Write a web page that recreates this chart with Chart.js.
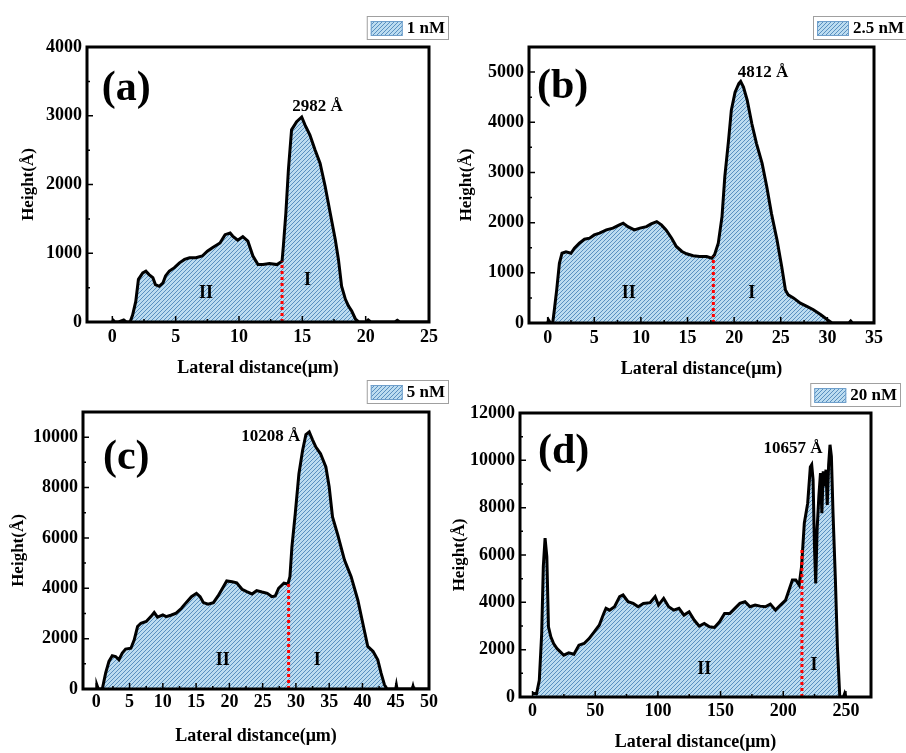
<!DOCTYPE html>
<html>
<head>
<meta charset="utf-8">
<script src="https://cdn.jsdelivr.net/npm/chart.js@4.4.0/dist/chart.umd.min.js"></script>
<style>
  body { margin: 0; background: #fff; }
  #wrap { position: relative; width: 906px; height: 753px; overflow: hidden; }
  canvas { position: absolute; }
</style>
</head>
<body>
<div id="wrap">
  <canvas id="chartA" width="453" height="380" style="left:0px;top:0px"></canvas>
  <canvas id="chartB" width="453" height="380" style="left:453px;top:0px"></canvas>
  <canvas id="chartC" width="453" height="377" style="left:0px;top:376px"></canvas>
  <canvas id="chartD" width="458" height="377" style="left:448px;top:376px"></canvas>
</div>
<script>
// height profiles, x in µm, y in Å
let distA = [0, 0.2, 0.5, 0.9, 1.1, 1.4, 1.6, 1.85, 2.06, 2.4, 2.65, 2.9, 3.2, 3.4, 3.7, 4.0, 4.2, 4.5, 4.9, 5.3, 5.7, 6.1, 6.6, 7.1, 7.5, 7.9, 8.5, 8.9, 9.3, 9.5, 9.9, 10.3, 10.7, 11.1, 11.5, 11.9, 12.4, 13.0, 13.4, 13.5, 13.7, 13.9, 14.15, 14.55, 14.95, 15.2, 15.6, 16.0, 16.4, 16.8, 17.2, 17.6, 17.85, 18.1, 18.4, 18.65, 18.9, 19.2, 19.45, 20.0, 20.2, 20.4, 22.3, 22.5, 22.7, 25];
let heightA = [40, 0, 0, 30, 0, 0, 100, 300, 620, 715, 740, 690, 645, 545, 520, 570, 670, 740, 790, 860, 910, 935, 935, 960, 1030, 1080, 1150, 1270, 1295, 1250, 1190, 1240, 1175, 960, 835, 835, 850, 835, 885, 1100, 1585, 2215, 2795, 2915, 2982, 2870, 2720, 2505, 2310, 1975, 1585, 1200, 910, 520, 330, 230, 160, 40, 0, 0, 30, 0, 0, 25, 0, 0];

let distB = [0, 0.1, 0.3, 0.54, 0.72, 0.97, 1.26, 1.54, 1.97, 2.5, 2.87, 3.4, 3.95, 4.5, 5.0, 5.56, 6.3, 7.0, 7.7, 8.1, 8.6, 9.3, 9.9, 10.6, 11.1, 11.7, 12.2, 12.7, 13.3, 13.8, 14.4, 14.9, 15.6, 16.3, 17.05, 17.6, 17.9, 18.3, 18.7, 19.0, 19.4, 19.7, 20.1, 20.5, 20.7, 21.0, 21.4, 21.9, 22.4, 23.0, 23.5, 24.0, 24.6, 25.1, 25.5, 25.8, 26.4, 27.1, 27.8, 28.5, 29.3, 30.0, 30.5, 32.3, 32.5, 32.7, 35];
let heightB = [0, 60, 0, 0, 265, 660, 1190, 1390, 1420, 1390, 1490, 1590, 1670, 1690, 1755, 1790, 1855, 1890, 1955, 1990, 1920, 1855, 1890, 1920, 1975, 2020, 1955, 1855, 1690, 1525, 1425, 1380, 1340, 1325, 1325, 1290, 1360, 1590, 2120, 2915, 3640, 4240, 4600, 4770, 4812, 4700, 4440, 3970, 3575, 3180, 2715, 2185, 1655, 1125, 660, 560, 495, 395, 330, 265, 165, 65, 0, 0, 40, 0, 0];

let distC = [0, 0.1, 0.3, 0.9, 1.4, 1.9, 2.4, 2.9, 3.4, 3.9, 4.4, 5.2, 5.7, 6.2, 6.7, 7.5, 8.2, 8.7, 9.2, 10.0, 10.5, 11.3, 12.0, 12.8, 13.5, 14.3, 15.05, 15.6, 16.1, 16.8, 17.6, 18.3, 19.1, 19.6, 20.4, 21.1, 21.9, 22.6, 23.4, 24.1, 24.9, 25.7, 26.4, 26.9, 27.4, 28.2, 28.8, 29.1, 29.4, 29.9, 30.45, 31.0, 31.5, 32.0, 32.5, 33.0, 33.7, 34.5, 35.0, 35.5, 36.3, 37.3, 38.3, 39.3, 40.05, 40.8, 41.6, 42.3, 42.8, 43.3, 43.7, 45.0, 45.1, 45.2, 47.5, 47.6, 47.7, 50];
let heightC = [0, 150, 0, 0, 630, 1095, 1320, 1290, 1160, 1425, 1585, 1620, 1950, 2480, 2610, 2680, 2875, 3035, 2850, 2940, 2875, 2940, 3010, 3205, 3430, 3665, 3800, 3665, 3430, 3365, 3430, 3695, 4065, 4290, 4260, 4220, 3960, 3865, 3775, 3905, 3850, 3800, 3665, 3695, 4000, 4200, 4170, 4460, 5650, 6965, 8550, 9470, 10105, 10208, 9895, 9605, 9340, 8815, 8020, 6835, 6110, 5120, 4460, 3535, 2610, 1690, 1490, 1160, 630, 170, 0, 0, 150, 0, 0, 100, 0, 0];

let distD = [0, 1, 3.2, 5.4, 7.3, 8.6, 10.0, 11.4, 12.7, 14.6, 16.8, 19.5, 22.2, 24.9, 28.9, 33.0, 37.0, 41.1, 45.1, 49.2, 53.2, 56.8, 58.6, 61.4, 65.4, 69.5, 72.2, 76.2, 80.3, 84.3, 88.4, 93.8, 97.8, 100.5, 104.6, 108.6, 112.7, 116.8, 120.8, 124.9, 128.9, 133.0, 137.0, 141.1, 145.1, 149.2, 153.2, 157.3, 161.4, 165.4, 169.5, 173.5, 177.6, 181.6, 185.7, 189.7, 193.8, 197.8, 201.9, 204.6, 207.3, 210.0, 212.7, 214.6, 216.8, 219.5, 221.6, 222.7, 223.8, 224.9, 225.9, 227.0, 228.4, 229.7, 230.8, 231.9, 233.0, 234.1, 235.1, 236.2, 237.3, 238.4, 239.7, 241.6, 243.2, 245.1, 248, 249, 250];
let heightD = [150, 150, 140, 705, 2680, 5510, 6710, 5930, 2965, 2540, 2260, 2050, 1905, 1765, 1865, 1810, 2190, 2260, 2470, 2755, 3035, 3530, 3745, 3670, 3815, 4240, 4310, 4025, 3955, 3815, 3955, 3985, 4240, 3885, 4165, 3815, 3670, 3745, 3460, 3600, 3250, 2995, 3105, 2965, 2940, 3180, 3530, 3530, 3745, 3955, 4025, 3815, 3885, 3840, 3815, 3925, 3670, 3885, 4095, 4520, 4945, 4945, 4730, 5510, 7345, 8190, 9715, 9815, 9180, 6355, 4800, 7060, 8475, 9465, 7770, 9535, 8900, 9605, 8120, 9815, 10657, 10170, 7770, 4945, 2120, 0, 0, 150, 0];

let concentrations = ["1 nM", "2.5 nM", "5 nM", "20 nM"];
let panelTags = ["(a)", "(b)", "(c)", "(d)"];
let peakHeights = [2982, 4812, 10208, 10657];
let boundaryX = [13.4, 17.77, 28.9, 214.9];
let boundaryTop = [880, 1320, 4200, 6300];
let regionNames = ["II", "I"];

let xRanges = [[-2, 25], [-2, 35], [-2, 50], [-10, 270]];
let yRanges = [[0, 4000], [0, 5500], [0, 11000], [0, 12000]];
let xTickValues = [
  [0, 5, 10, 15, 20, 25],
  [0, 5, 10, 15, 20, 25, 30, 35],
  [0, 5, 10, 15, 20, 25, 30, 35, 40, 45, 50],
  [0, 50, 100, 150, 200, 250]
];
let yTickValues = [
  [0, 1000, 2000, 3000, 4000],
  [0, 1000, 2000, 3000, 4000, 5000],
  [0, 2000, 4000, 6000, 8000, 10000],
  [0, 2000, 4000, 6000, 8000, 10000, 12000]
];

let xTitle = "Lateral distance(μm)";
let yTitle = "Height(Å)";

// layout of each panel (canvas pixels) and label anchors (data coords)
let panels = [
  { id: "chartA", x: distA, y: heightA,
    pad: { top: 47, right: 24, bottom: 0, left: 0 }, yWidth: 87, xHeight: 58,
    yTitlePad: 18, xTickPad: 5, xTitlePad: 1,
    legendRight: 449, legendTop: 16,
    tagAt: [1.1, 3390], peakAt: [16.2, 3140], regionAt: [[7.4, 420], [15.4, 610]] },
  { id: "chartB", x: distB, y: heightB,
    pad: { top: 47, right: 32, bottom: 0, left: 0 }, yWidth: 76, xHeight: 57,
    yTitlePad: 3, xTickPad: 5, xTitlePad: 0,
    legendRight: 455, legendTop: 16,
    tagAt: [1.6, 4700], peakAt: [23.1, 4990], regionAt: [[8.7, 600], [21.9, 590]] },
  { id: "chartC", x: distC, y: heightC,
    pad: { top: 36, right: 24, bottom: 0, left: 0 }, yWidth: 83, xHeight: 64,
    yTitlePad: 8, xTickPad: 3, xTitlePad: 6,
    legendRight: 449, legendTop: 4,
    tagAt: [4.5, 9170], peakAt: [26.2, 10010], regionAt: [[19.0, 1150], [33.2, 1150]] },
  { id: "chartD", x: distD, y: heightD,
    pad: { top: 37, right: 35, bottom: 0, left: 0 }, yWidth: 72, xHeight: 56,
    yTitlePad: 1, xTickPad: 4, xTitlePad: 0,
    legendRight: 453, legendTop: 7,
    tagAt: [24.8, 10350], peakAt: [207.8, 10510], regionAt: [[137, 1170], [224.6, 1350]] }
];

let serif = "'Liberation Serif', 'Times New Roman', serif";

function makeHatch(ctx) {
  let tile = document.createElement("canvas");
  tile.width = 4;
  tile.height = 4;
  let g = tile.getContext("2d");
  g.fillStyle = "#bcdcf0";
  g.fillRect(0, 0, 4, 4);
  g.strokeStyle = "#5a90c0";
  g.lineWidth = 1;
  g.beginPath();
  g.moveTo(0, 4); g.lineTo(4, 0);
  g.moveTo(-1, 1); g.lineTo(1, -1);
  g.moveTo(3, 5); g.lineTo(5, 3);
  g.stroke();
  return ctx.createPattern(tile, "repeat");
}

function drawLegend(ctx, panel, label, hatch) {
  ctx.font = "bold 17px " + serif;
  let w = 4 + 32 + 4 + ctx.measureText(label).width + 4;
  let h = 24;
  let left = panel.legendRight - w;
  let top = panel.legendTop;
  ctx.fillStyle = "#fff";
  ctx.fillRect(left, top, w, h);
  ctx.strokeStyle = "#a0a0a0";
  ctx.lineWidth = 1;
  ctx.strokeRect(left + 0.5, top + 0.5, w - 1, h - 1);
  ctx.fillStyle = hatch;
  ctx.fillRect(left + 4, top + 5, 32, 15);
  ctx.strokeStyle = "#6f9fcb";
  ctx.strokeRect(left + 4.5, top + 5.5, 31, 14);
  ctx.fillStyle = "#000";
  ctx.textAlign = "left";
  ctx.textBaseline = "middle";
  ctx.fillText(label, left + 40, top + h / 2 + 1);
}

function makeChart(i) {
  let panel = panels[i];
  let canvas = document.getElementById(panel.id);
  let ctx = canvas.getContext("2d");
  let hatch = makeHatch(ctx);
  let xMinor = (xTickValues[i][1] - xTickValues[i][0]) / 2;
  let yMinor = (yTickValues[i][1] - yTickValues[i][0]) / 2;

  let frame = {
    id: "frame" + i,
    afterDatasetsDraw(chart) {
      let c = chart.ctx;
      let a = chart.chartArea;
      let xs = chart.scales.x;
      let ys = chart.scales.y;
      c.save();
      c.strokeStyle = "#000";
      c.lineWidth = 1.5;
      c.beginPath();
      ys.ticks.forEach(t => {
        let p = ys.getPixelForValue(t.value);
        c.moveTo(a.left, p); c.lineTo(a.left + 6, p);
        let m = ys.getPixelForValue(t.value + yMinor);
        if (m > a.top) { c.moveTo(a.left, m); c.lineTo(a.left + 3, m); }
      });
      xs.ticks.forEach(t => {
        let p = xs.getPixelForValue(t.value);
        c.moveTo(p, a.bottom); c.lineTo(p, a.bottom - 6);
        let m = xs.getPixelForValue(t.value + xMinor);
        if (m < a.right) { c.moveTo(m, a.bottom); c.lineTo(m, a.bottom - 3); }
      });
      c.stroke();
      c.lineWidth = 3;
      c.strokeRect(a.left, a.top, a.right - a.left, a.bottom - a.top);

      c.fillStyle = "#000";
      c.textAlign = "center";
      c.textBaseline = "middle";
      c.font = "bold 42px " + serif;
      c.fillText(panelTags[i], xs.getPixelForValue(panel.tagAt[0]), ys.getPixelForValue(panel.tagAt[1]));
      c.font = "bold 17px " + serif;
      c.fillText(peakHeights[i] + " Å", xs.getPixelForValue(panel.peakAt[0]), ys.getPixelForValue(panel.peakAt[1]));
      c.font = "bold 18px " + serif;
      regionNames.forEach((name, k) => {
        c.fillText(name, xs.getPixelForValue(panel.regionAt[k][0]), ys.getPixelForValue(panel.regionAt[k][1]));
      });
      drawLegend(c, panel, concentrations[i], hatch);
      c.restore();
    }
  };

  let tickFont = { family: serif, size: 18, weight: "bold" };

  return new Chart(ctx, {
    type: "line",
    data: {
      datasets: [{
        label: "boundary",
        data: [{ x: boundaryX[i], y: 0 }, { x: boundaryX[i], y: boundaryTop[i] }],
        borderColor: "#ff0000",
        borderWidth: 3,
        borderDash: [3, 3],
        pointRadius: 0,
        fill: false,
        order: 0
      }, {
        label: concentrations[i],
        data: panel.x.map((d, k) => ({ x: d, y: panel.y[k] })),
        borderColor: "#000",
        borderWidth: 3,
        backgroundColor: hatch,
        fill: "origin",
        pointRadius: 0,
        tension: 0,
        order: 1
      }]
    },
    options: {
      responsive: false,
      animation: false,
      layout: { padding: panel.pad },
      plugins: { legend: { display: false }, tooltip: { enabled: false } },
      scales: {
        x: {
          type: "linear",
          min: xRanges[i][0],
          max: xRanges[i][1],
          border: { display: false },
          grid: { display: false, drawTicks: false },
          ticks: {
            autoSkip: false, maxRotation: 0,
            padding: panel.xTickPad, color: "#000", font: tickFont,
            callback: v => String(v)
          },
          afterBuildTicks: s => { s.ticks = xTickValues[i].map(v => ({ value: v })); },
          title: { display: true, text: xTitle, color: "#000", font: tickFont, padding: { top: 0, bottom: panel.xTitlePad } },
          afterFit: s => { s.height = panel.xHeight; }
        },
        y: {
          type: "linear",
          min: yRanges[i][0],
          max: yRanges[i][1],
          border: { display: false },
          grid: { display: false, drawTicks: false },
          ticks: {
            autoSkip: false,
            padding: 5, color: "#000", font: tickFont,
            callback: v => String(v)
          },
          afterBuildTicks: s => { s.ticks = yTickValues[i].map(v => ({ value: v })); },
          title: { display: true, text: yTitle, color: "#000", font: { family: serif, size: 17, weight: "bold" }, padding: { top: panel.yTitlePad, bottom: 0 } },
          afterFit: s => { s.width = panel.yWidth; }
        }
      }
    },
    plugins: [frame]
  });
}

panels.forEach((p, i) => makeChart(i));
</script>
</body>
</html>
